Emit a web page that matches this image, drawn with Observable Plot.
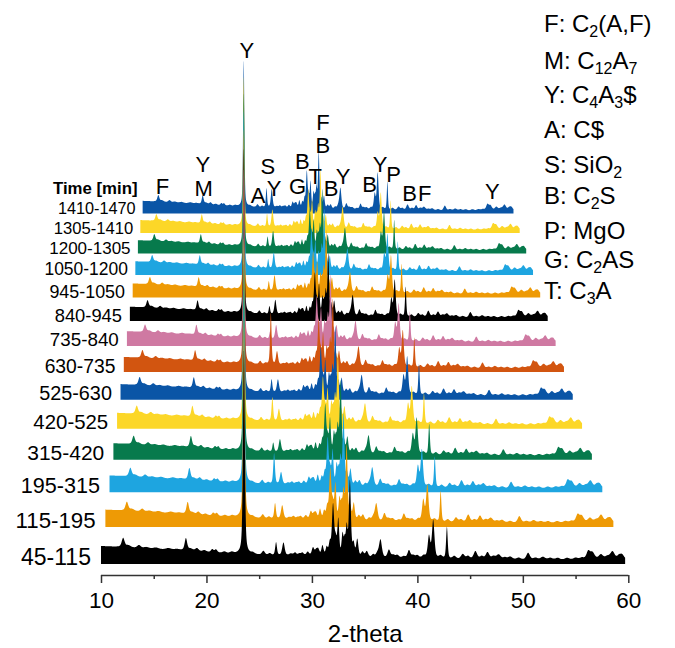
<!DOCTYPE html>
<html><head><meta charset="utf-8">
<script src="https://cdn.jsdelivr.net/npm/d3@7"></script>
<script src="https://cdn.jsdelivr.net/npm/@observablehq/plot@0.6"></script>
<style>
html,body{margin:0;padding:0;background:#fff;}
#chart{position:relative;width:675px;height:648px;}
</style></head><body><div id="chart"></div>
<script>
// ---- series (front = index 0, back = index 13) ----
const seriesNames = ["45-115","115-195","195-315","315-420","420-525","525-630","630-735","735-840","840-945","945-1050","1050-1200","1200-1305","1305-1410","1410-1470"];
const seriesColors = ["#000000","#ee9a05","#1ea5e0","#077a4c","#fcd728","#0a55a6","#d25510","#cf79a2","#000000","#ee9a05","#1ea5e0","#077a4c","#fcd728","#0a55a6"];

// ---- background level (intensity vs 2-theta) ----
const bgTheta = [10,12,14,16,18,20,22,24,26,28,30,32,35,40,45,50,55,60];
const bgLevel = [18,17,15.5,14.5,13.5,12,10.5,9.5,8.5,8,7.5,7,6,5,4.5,4,4,4];

// ---- reflections common to all patterns: position, net height, half width ----
const peakTheta  = [12.1,12.6,13.6,14.3,15.2,16.4,17.2,18.05,18.5,19.1,19.8,20.55,20.9,21.7,22.4,24.4,25.4,26.0,28.0,28.4,28.8,29.1,29.6,30.1,30.4,30.6,31.0,31.4,31.7,32.25,32.5,32.9,33.1,33.3,33.95,34.3,34.8,35.2,35.8,36.2,37.3,37.7,38.1,38.7,39.2,39.6,40.0,40.6,41.1,42.2,43.5,44.3,44.8,45.5,46.1,46.65,47.2,47.7,48.3,48.8,49.6,50.5,51.2,51.9,52.6,53.3,54.2,55.0,55.6,56.2,56.6,57.4,58.0,58.5,59.1,59.4];
const peakHeight = [9,2,3,1.5,1.5,1.5,1,12,2,3,1.5,3,3,1.5,1.5,1.5,4,2,2,3,2,3,4,8,5,6,10,8,12,15,35,20,14,27,12,17,5,6,3,4,8,3,3,2,8,3,3,3,22,3,3,5,3,8,3,7,3,5,2,3,2,7,2,3,2,2,2,2,2,8,7,5,3,8,3,5];
const peakWidth  = [.16,.25,.2,.3,.3,.3,.3,.14,.25,.18,.2,.14,.14,.2,.2,.2,.16,.16,.2,.16,.16,.16,.16,.14,.14,.14,.12,.12,.12,.12,.1,.1,.1,.1,.12,.12,.15,.16,.16,.16,.16,.2,.2,.2,.16,.2,.2,.2,.14,.2,.2,.2,.2,.2,.2,.2,.2,.25,.2,.25,.25,.2,.25,.25,.25,.25,.25,.25,.25,.2,.25,.25,.25,.25,.2,.25];

// ---- reflections whose heights change from pattern to pattern (index 0 = 45-115) ----
const varTheta = [23.55, 26.6, 27.3, 32.0, 33.6, 36.5, 41.5, 42.8];
const varWidth = [0.1, 0.1, 0.14, 0.12, 0.11, 0.16, 0.14, 0.09];
const mainY   = [205,205,206,206,206,206,207,207,207,207,207,207,207,207];
const quartzS = [13,16,33,10,27,15,62,9,10,12,12,14,18,27];
const ye273   = [13,14,13,14,14,15,16,17,18,20,21,22,24,26];
const belite32= [50,50,48,50,48,50,52,50,50,48,50,50,50,50];
const peak336 = [75,76,75,78,76,76,78,78,76,78,78,78,78,78];
const peak365 = [18,18,20,20,22,22,24,24,26,26,28,28,30,30];
const peak415 = [38,38,40,40,42,44,44,46,46,48,48,50,50,52];
const mgo428  = [32,32,33,34,35,36,36,37,38,38,39,40,40,40];
const varHeights = [mainY, quartzS, ye273, belite32, peak336, peak365, peak415, mgo428];

// ---- phase labels above the back pattern (2-theta and height in that pattern) ----
const labelText  = ["Y","F","Y","M","A","S","Y","G","B","T","F","B","B","Y","B","Y","P","B","F","Y"];
const labelTheta = [23.9,12.6,18.0,18.1,25.4,26.7,27.55,30.7,31.35,33.05,34.1,34.1,35.2,36.8,40.35,41.75,43.55,45.7,47.75,56.8];
const labelLift  = [221,29,59,26,15,56,26,29,64,42,119,87,26,43,31,60,45,19,19,22];

// ---- legend ----
const legendRows = [["F: C","2","(A,F)"],["M: C","12","A","7"],["Y: C","4","A","3","$"],["A: C$"],["S: SiO","2"],["B: C","2","S"],["P: MgO"],["G: C","2","AS"],["T: C","3","A"]];

// ---- perspective layout ----
const center = 23.5, depthStep = 0.0318, vanish = 1198;
const scaleOf = i => 1 / (1 + depthStep * i);
const baseOf = i => vanish * (1 - scaleOf(i));
const bg = d3.scaleLinear(bgTheta, bgLevel);
const shape = (t, p, h, w) => { const u = (t - p) / w; return h * (0.5 * Math.exp(-0.6931 * u * u) + 0.5 / (1 + u * u)); };
const thetas = d3.range(10, 59.7001, 0.02);

function intensity(i, t) {
  let v = bg(t);
  for (let k = 0; k < peakTheta.length; k++) if (Math.abs(t - peakTheta[k]) < 3) v += shape(t, peakTheta[k], peakHeight[k], peakWidth[k]);
  for (let k = 0; k < varTheta.length; k++) v += shape(t, varTheta[k], varHeights[k][i], varWidth[k]);
  return v;
}

const marks = [];
for (let i = seriesNames.length - 1; i >= 0; i--) {
  const s = scaleOf(i), b = baseOf(i);
  const data = thetas.map(t => ({x: center + s * (t - center), y1: b, y2: b + s * intensity(i, t)}));
  marks.push(Plot.areaY(data, {x: "x", y1: "y1", y2: "y2", fill: seriesColors[i], curve: "linear"}));
}
const nameData = seriesNames.map((n, i) => ({n, x: center + scaleOf(i) * (9.0 - center), y: baseOf(i), fs: 23 * scaleOf(i)}));
marks.push(Plot.text(nameData, {x: "x", y: "y", text: "n", fontSize: "fs", textAnchor: "end", lineAnchor: "bottom", fill: "black"}));
const backIdx = seriesNames.length - 1, sBack = scaleOf(backIdx), bBack = baseOf(backIdx);
marks.push(Plot.text(["Time [min]"], {x: center + sBack * (9.25 - center), y: bBack + 20, textAnchor: "end", lineAnchor: "bottom", fontWeight: "bold", fontSize: 16.8, fill: "black"}));
const lab = labelText.map((t, k) => ({t, x: center + sBack * (labelTheta[k] - center), y: bBack + sBack * labelLift[k]}));
marks.push(Plot.text(lab, {x: "x", y: "y", text: "t", lineAnchor: "bottom", fontSize: 22, fill: "black"}));
marks.push(Plot.ruleY([-11], {stroke: "#333", strokeWidth: 1.5}));
marks.push(Plot.axisX({ticks: [10,20,30,40,50,60], tickSize: 8, tickPadding: 9, fontSize: 22.5, label: null, stroke: "#333", strokeWidth: 1.5}));
marks.push(Plot.axisX({ticks: [15,25,35,45,55], tickSize: 4, tickFormat: () => "", label: null, stroke: "#333", strokeWidth: 1.5}));
marks.push(Plot.text(["2-theta"], {frameAnchor: "bottom", dy: 66, lineAnchor: "bottom", fontSize: 24, fill: "black"}));

const svg = Plot.plot({
  width: 675, height: 648,
  marginLeft: 101, marginRight: 46.7, marginTop: 0, marginBottom: 73,
  x: {domain: [10, 60], label: null},
  y: {domain: [-11, 564], axis: null},
  style: {fontFamily: "'Liberation Sans', Arial, sans-serif", fontSize: "22px", color: "black", background: "white", overflow: "visible"},
  marks
});

// legend with subscripts
const legendBaselines = [32, 69, 103, 138, 173, 204, 239, 268, 299];
const lg = d3.select(svg).append("g").attr("font-family", "'Liberation Sans', Arial, sans-serif").attr("font-size", 24).attr("fill", "black").attr("text-anchor", "start");
legendRows.forEach((parts, k) => {
  const t = lg.append("text").attr("x", 544).attr("y", legendBaselines[k]);
  let shifted = false;
  parts.forEach((p, j) => {
    const sub = j % 2 === 1;
    const ts = t.append("tspan").text(p);
    if (sub) { ts.attr("font-size", 16).attr("dy", 5); shifted = true; }
    else if (shifted) { ts.attr("dy", -5); shifted = false; }
  });
});
document.getElementById("chart").appendChild(svg);
</script></body></html>
